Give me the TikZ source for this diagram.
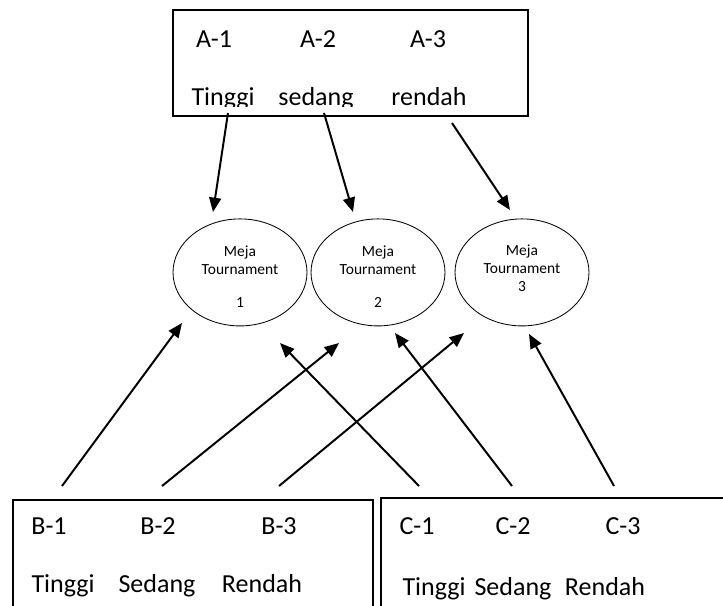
\documentclass[tikz,border=0pt]{standalone}
\usepackage{fontspec}
\setmainfont{Carlito}
\usetikzlibrary{shapes.geometric, arrows.meta}

\begin{document}
\begin{tikzpicture}[
  font=\fontsize{18.5}{22}\selectfont,
  kotak/.style={draw=black, line width=0.9pt},
  meja/.style={draw=black, line width=0.6pt, ellipse, inner sep=0pt,
               minimum width=3.35cm, minimum height=2.675cm},
  isimeja/.style={align=center, inner sep=0pt, font=\fontsize{11}{12.8}\selectfont},
  teks/.style={anchor=base, inner sep=0pt},
  panah/.style={draw=black, line width=1.4pt, -{Triangle[length=0.36cm, width=0.3cm]}}
]
\useasboundingbox (0,0) rectangle (18.075,-15.125);
\clip (0,0) rectangle (18.075,-15.125);

% ---- kelompok A (atas) ------------------------------------------------
\draw[kotak] (4.325,-0.25) rectangle (13.2,-2.9);
\begin{scope}
  \clip (4.325,-0.25) rectangle (13.2,-2.66);
  \node[teks] (a1) at (5.35,-1.175) {A-1};
  \node[teks] (a2) at (7.95,-1.175) {A-2};
  \node[teks] (a3) at (10.7,-1.175) {A-3};
  \node[teks] (ta1) at (5.575,-2.6375) {Tinggi};
  \node[teks] (ta2) at (7.9,-2.6375) {sedang};
  \node[teks] (ta3) at (10.725,-2.6375) {rendah};
\end{scope}

% ---- meja turnamen ------------------------------------------------------
\node[meja, label={[isimeja, yshift=-0.1cm]center:{Meja\\Tournament\\[0.375cm]1}}]
  (meja1) at (6.0,-6.81) {};
\node[meja, label={[isimeja, yshift=-0.1cm]center:{Meja\\Tournament\\[0.375cm]2}}]
  (meja2) at (9.45,-6.81) {};
\node[meja, label={[isimeja, yshift=0.1cm]center:{Meja\\Tournament\\3}}]
  (meja3) at (13.05,-6.81) {};

% ---- kelompok B dan C (bawah) -----------------------------------------
\draw[kotak] (0.325,-12.5) rectangle (9.325,-15.6);
\draw[kotak] (9.525,-12.45) rectangle (18.6,-15.6);

\node[teks] (b1) at (1.225,-13.35) {B-1};
\node[teks] (b2) at (3.95,-13.35) {B-2};
\node[teks] (b3) at (6.975,-13.35) {B-3};
\node[teks] (tb1) at (1.575,-14.8) {Tinggi};
\node[teks] (tb2) at (3.925,-14.8) {Sedang};
\node[teks] (tb3) at (6.55,-14.8) {Rendah};

\node[teks] (c1) at (10.425,-13.35) {C-1};
\node[teks] (c2) at (12.825,-13.35) {C-2};
\node[teks] (c3) at (15.575,-13.35) {C-3};
\node[teks] (tc1) at (10.85,-14.875) {Tinggi};
\node[teks] (tc2) at (12.825,-14.875) {Sedang};
\node[teks] (tc3) at (15.125,-14.875) {Rendah};

% ---- ujung panah ---------------------------------------------------------
\coordinate (pA1) at (5.7,-2.825);
\coordinate (pA2) at (8.1,-2.825);
\coordinate (pA3) at (11.3,-3.075);
\coordinate (uA1) at (5.325,-5.3);
\coordinate (uA2) at (8.825,-5.3);
\coordinate (uA3) at (12.75,-5.25);

\coordinate (pB1) at (1.55,-12.15);
\coordinate (pB2) at (4.05,-12.15);
\coordinate (pB3) at (6.975,-12.15);
\coordinate (pC1) at (10.475,-12.15);
\coordinate (pC2) at (12.8,-12.15);
\coordinate (pC3) at (15.35,-12.15);
\coordinate (uB1) at (4.55,-8.075);
\coordinate (uB2) at (8.475,-8.575);
\coordinate (uB3) at (11.6,-8.325);
\coordinate (uC1) at (7.0,-8.575);
\coordinate (uC2) at (9.875,-8.325);
\coordinate (uC3) at (13.225,-8.35);

\draw[panah] (pA1) -- (uA1);
\draw[panah] (pA2) -- (uA2);
\draw[panah] (pA3) -- (uA3);

\draw[panah] (pB1) -- (uB1);
\draw[panah] (pB2) -- (uB2);
\draw[panah] (pB3) -- (uB3);
\draw[panah] (pC1) -- (uC1);
\draw[panah] (pC2) -- (uC2);
\draw[panah] (pC3) -- (uC3);

\end{tikzpicture}
\end{document}
